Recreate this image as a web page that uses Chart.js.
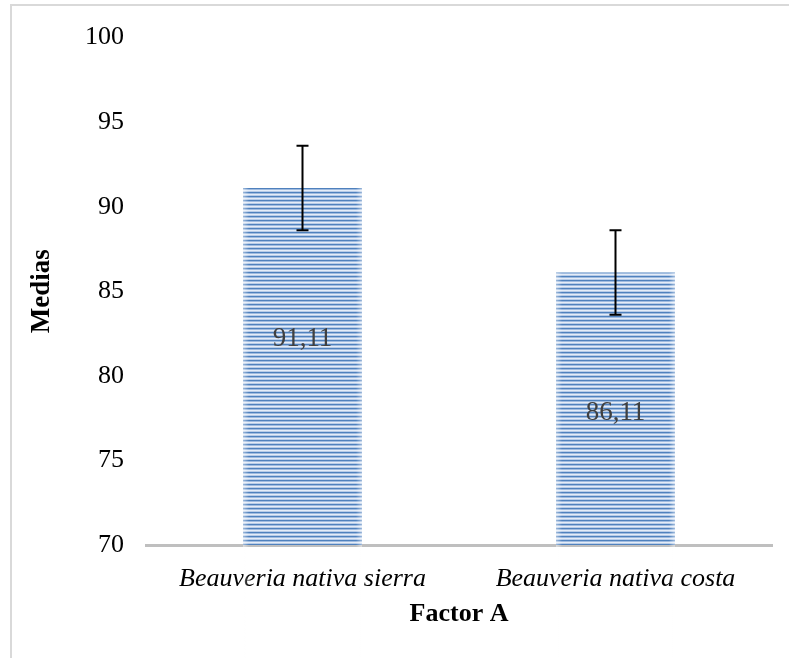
<!DOCTYPE html>
<html>
<head>
<meta charset="utf-8">
<script src="https://cdn.jsdelivr.net/npm/chart.js@4.4.1/dist/chart.umd.min.js"></script>
<style>
  html, body { margin: 0; padding: 0; background: #ffffff; }
  #wrap { width: 789px; height: 658px; position: relative; }
</style>
</head>
<body>
<div id="wrap"><canvas id="c" width="789" height="658"></canvas></div>
<script>
// ---- data ----
const categories = ['Beauveria nativa sierra', 'Beauveria nativa costa'];
const medias = [91.11, 86.11];
const errores = [2.5, 2.5];
const valueLabels = ['91,11', '86,11'];
const yTicks = [70, 75, 80, 85, 90, 95, 100];

// ---- striped pattern ----
function makePattern() {
  const p = document.createElement('canvas');
  p.width = 8; p.height = 4;
  const g = p.getContext('2d');
  const rows = ['#4f81bd', '#9fbbe0', '#e4ecf7', '#b8cce8'];
  rows.forEach((c, i) => { g.fillStyle = c; g.fillRect(0, i, 8, 1); });
  return g.createPattern(p, 'repeat');
}

const serif = "'Liberation Serif', 'Times New Roman', serif";

const decorPlugin = {
  id: 'decor',
  beforeDraw(chart) {
    const ctx = chart.ctx;
    ctx.save();
    ctx.strokeStyle = '#d9d9d9';
    ctx.lineWidth = 2;
    ctx.beginPath();
    ctx.moveTo(11, 700);
    ctx.lineTo(11, 5);
    ctx.lineTo(800, 5);
    ctx.stroke();
    ctx.restore();
  },
  afterDatasetsDraw(chart) {
    const ctx = chart.ctx;
    const ys = chart.scales.y;
    const meta = chart.getDatasetMeta(0);
    ctx.save();
    meta.data.forEach((el, i) => {
      // soft edges
      const left = el.x - el.width / 2, right = el.x + el.width / 2;
      const top = el.y, bottom = el.base;
      let gl = ctx.createLinearGradient(left, 0, left + 6, 0);
      gl.addColorStop(0, 'rgba(255,255,255,0.45)');
      gl.addColorStop(1, 'rgba(255,255,255,0)');
      ctx.fillStyle = gl; ctx.fillRect(left, top, 6, bottom - top);
      let gr = ctx.createLinearGradient(right - 6, 0, right, 0);
      gr.addColorStop(0, 'rgba(255,255,255,0)');
      gr.addColorStop(1, 'rgba(255,255,255,0.45)');
      ctx.fillStyle = gr; ctx.fillRect(right - 6, top, 6, bottom - top);

      // error bar
      const v = medias[i], e = errores[i];
      const yt = ys.getPixelForValue(v + e), yb = ys.getPixelForValue(v - e);
      ctx.strokeStyle = '#000000';
      ctx.lineWidth = 2;
      ctx.beginPath();
      ctx.moveTo(el.x, yt); ctx.lineTo(el.x, yb);
      ctx.moveTo(el.x - 6, yt); ctx.lineTo(el.x + 6, yt);
      ctx.moveTo(el.x - 6, yb); ctx.lineTo(el.x + 6, yb);
      ctx.stroke();

      // value label
      const labelAt = chart.options.plugins.decor.labelAt[i];
      ctx.fillStyle = '#404040';
      ctx.font = '27px ' + serif;
      ctx.textAlign = 'center';
      ctx.textBaseline = 'middle';
      ctx.fillText(valueLabels[i], el.x, ys.getPixelForValue(labelAt));
    });
    ctx.restore();
  }
};

new Chart(document.getElementById('c'), {
  type: 'bar',
  data: {
    labels: categories,
    datasets: [{
      data: medias,
      backgroundColor: makePattern(),
      borderWidth: 0,
      categoryPercentage: 1.0,
      barPercentage: 0.38
    }]
  },
  options: {
    responsive: false,
    animation: false,
    layout: { padding: { left: 26, right: 17, top: 35, bottom: 28 } },
    plugins: {
      legend: { display: false },
      tooltip: { enabled: false },
      decor: { labelAt: [82.2, 77.8] }
    },
    scales: {
      y: {
        min: 70, max: 100,
        afterBuildTicks(s) { s.ticks = yTicks.map(v => ({ value: v })); },
        afterFit(s) { s.width = 120; },
        grid: { display: false, drawTicks: false },
        border: { display: false },
        ticks: { color: '#000000', font: { family: serif, size: 26 }, padding: 22 },
        title: { display: true, text: 'Medias', color: '#000000',
                 font: { family: serif, size: 27, weight: 'bold' }, padding: { top: 0, bottom: 0 } }
      },
      x: {
        afterFit(s) { s.height = 658 - 28 - 545; },
        grid: { display: false, drawTicks: false },
        border: { display: true, color: '#bfbfbf', width: 3 },
        ticks: { color: '#000000', font: { family: serif, size: 26, style: 'italic' }, padding: 19 },
        title: { display: true, text: 'Factor A', color: '#000000',
                 font: { family: serif, size: 26, weight: 'bold' }, padding: { top: 0, bottom: 0 } }
      }
    }
  },
  plugins: [decorPlugin]
});
</script>
</body>
</html>
